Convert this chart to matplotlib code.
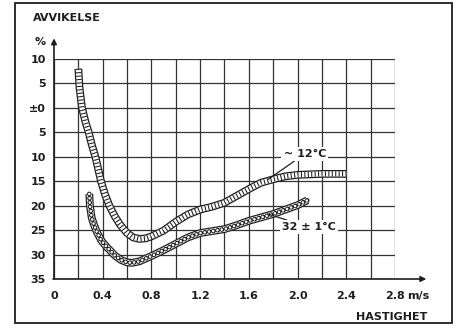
import matplotlib
matplotlib.use("Agg")
import matplotlib.pyplot as plt
from matplotlib.patches import Rectangle


# avvik i % mot hastighet i m/s, lest av fra figuren (midtlinje av bandene)
x12 = [0.20, 0.21, 0.23, 0.26, 0.285, 0.31, 0.34, 0.386, 0.42, 0.455, 0.50, 0.54,
       0.60, 0.65, 0.70, 0.75, 0.80, 0.90, 1.00, 1.10, 1.20, 1.30, 1.40, 1.50,
       1.60, 1.70, 1.80, 1.90, 2.00, 2.20, 2.40]
y12 = [8.0, 4.0, 0.0, -3.0, -5.0, -7.5, -10.0, -15.0, -17.8, -20.0, -22.2, -23.8,
       -25.6, -26.5, -26.8, -26.7, -26.3, -25.1, -23.3, -21.8, -20.8, -20.2, -19.4, -18.0,
       -16.6, -15.3, -14.6, -14.0, -13.7, -13.5, -13.5]

x32 = [0.29, 0.295, 0.31, 0.33, 0.354, 0.39, 0.435, 0.50, 0.55, 0.60, 0.64, 0.70,
       0.80, 0.90, 1.00, 1.10, 1.20, 1.30, 1.40, 1.50, 1.60, 1.70, 1.80, 1.90,
       2.00, 2.08]
y32 = [-17.6, -20.0, -22.5, -24.0, -25.5, -27.2, -28.5, -30.2, -31.1, -31.6, -31.7, -31.4,
       -30.3, -29.1, -27.8, -26.5, -25.6, -25.2, -24.8, -24.0, -23.1, -22.4, -21.7, -20.8,
       -19.9, -18.9]

x_ticks = [0, 0.4, 0.8, 1.2, 1.6, 2.0, 2.4, 2.8]
x_labels = ["0", "0.4", "0.8", "1.2", "1.6", "2.0", "2.4", "2.8"]
y_ticks = [10, 5, 0, -5, -10, -15, -20, -25, -30, -35]
y_labels = ["10", "5", "±0", "5", "10", "15", "20", "25", "30", "35"]

label12 = "~ 12°C"
label32 = "32 ± 1°C"

INK = "#1e1e1e"
FONT = dict(family="DejaVu Sans", weight="bold", size=8, color=INK)


def draw_band(ax, x, y, style):
    ax.plot(x, y, color=INK, lw=5.6, solid_capstyle="butt", zorder=3)
    ax.plot(x, y, color="white", lw=3.8, solid_capstyle="butt", zorder=4)
    if style == "rungs":
        ax.plot(x, y, color=INK, lw=3.8, linestyle=(0, (0.2, 0.45)), zorder=5)
    else:
        # ringer: svarte prikker med mindre hvite prikker oppå
        ax.plot(x, y, color=INK, lw=3.4, linestyle=(0, (0.01, 0.9)),
                dash_capstyle="round", zorder=5)
        ax.plot(x, y, color="white", lw=1.9, linestyle=(0, (0.01, 3.07 / 1.9)),
                dash_capstyle="round", zorder=6)


fig = plt.figure(figsize=(4.59, 3.28), dpi=100)
ax = fig.add_axes([0.1176, 0.1494, 0.743, 0.6707])

ax.set_xlim(0, 2.8)
ax.set_ylim(-35, 10)
ax.set_xticks(x_ticks)
ax.set_xticklabels(x_labels, fontdict=FONT)
ax.set_xticks([v / 10 for v in range(2, 28, 4)], minor=True)
ax.set_yticks(y_ticks)
ax.set_yticklabels(y_labels, fontdict=FONT)
ax.tick_params(axis="both", which="both", length=0)
ax.tick_params(axis="x", pad=9)
ax.tick_params(axis="y", pad=6)
ax.grid(True, which="both", color="#333333", lw=0.9)
for spine in ax.spines.values():
    spine.set_visible(False)

draw_band(ax, x12, y12, "rungs")
draw_band(ax, x32, y32, "rings")

i12 = x12.index(1.80)
ax.annotate(label12, xy=(x12[i12] - 0.04, y12[i12]), xytext=(1.885, -9.4),
            ha="left", va="center", zorder=7, **FONT,
            bbox=dict(facecolor="white", edgecolor="none", pad=1.5),
            arrowprops=dict(arrowstyle="-", color=INK, lw=0.9, shrinkA=0, shrinkB=0))
i32 = x32.index(1.80)
ax.annotate(label32, xy=(x32[i32] - 0.045, y32[i32]), xytext=(1.875, -24.4),
            ha="left", va="center", zorder=7, **FONT,
            bbox=dict(facecolor="white", edgecolor="none", pad=1.5),
            arrowprops=dict(arrowstyle="-", color=INK, lw=0.9, shrinkA=0, shrinkB=0))

# akser med piler
ax.annotate("", xy=(0, 14.8), xytext=(0, -35.6), annotation_clip=False,
            arrowprops=dict(arrowstyle="-|>", color=INK, lw=1.2, mutation_scale=8))
ax.annotate("", xy=(3.08, -35), xytext=(-0.03, -35), annotation_clip=False,
            arrowprops=dict(arrowstyle="-|>", color=INK, lw=1.2, mutation_scale=8))

fig.text(0.072, 0.945, "AVVIKELSE", ha="left", va="center", **FONT)
fig.text(0.087, 0.872, "%", ha="center", va="center", **FONT)
fig.text(0.888, 0.0976, "m/s", ha="left", va="center", **FONT)
fig.text(0.932, 0.034, "HASTIGHET", ha="right", va="center", **FONT)

fig.patches.append(Rectangle((0.0327, 0.015), 0.952, 0.976, transform=fig.transFigure,
                             fill=False, edgecolor=INK, lw=1.3))

fig.savefig("out.png", dpi=100)
